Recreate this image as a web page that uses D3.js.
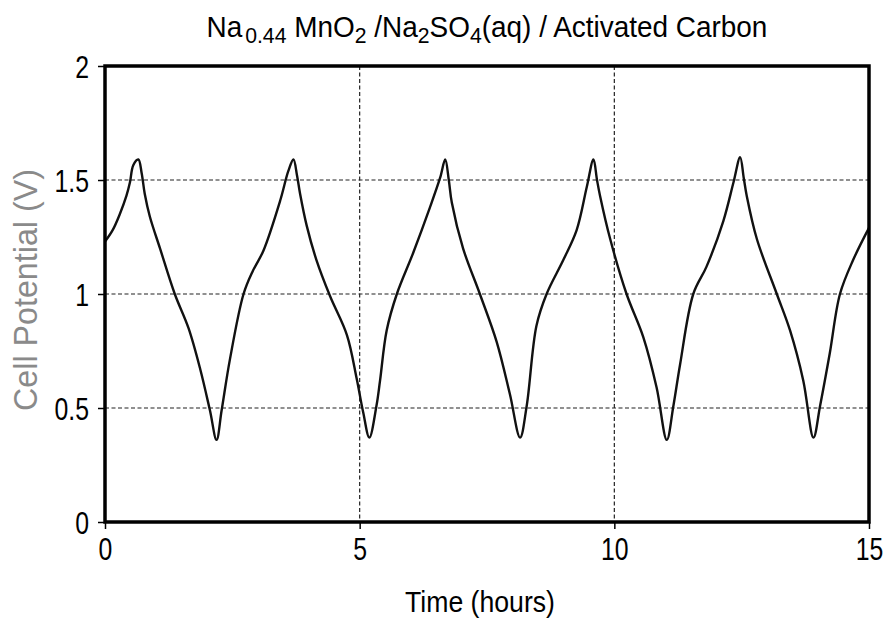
<!DOCTYPE html>
<html><head><meta charset="utf-8">
<script src="https://cdn.jsdelivr.net/npm/d3@7"></script>
<style>
body{margin:0;background:#fff;}
svg{display:block;}
text{font-family:"Liberation Sans",Arial,Helvetica,sans-serif;}
</style></head>
<body><svg id="c" width="886" height="621"></svg>
<script>
const timeHours = [0,0.15,0.29,0.42,0.49,0.555,0.655,0.72,0.78,0.88,1.08,1.37,1.64,1.87,2.06,2.19,2.29,2.45,2.72,2.9,3.11,3.44,3.60,3.70,3.77,3.83,3.96,4.15,4.42,4.75,4.94,5.07,5.19,5.33,5.40,5.53,5.73,6.05,6.38,6.58,6.68,6.75,6.81,7.03,7.36,7.69,7.95,8.15,8.28,8.47,8.67,9.00,9.26,9.46,9.59,9.66,9.72,9.92,10.24,10.57,10.83,11.03,11.16,11.29,11.55,11.81,12.14,12.34,12.47,12.54,12.60,12.80,13.19,13.45,13.71,13.91,14.04,14.23,14.43,14.69,15.0];
const cellPotential = [1.23,1.28,1.35,1.43,1.49,1.565,1.59,1.53,1.44,1.34,1.20,1.00,0.85,0.67,0.49,0.36,0.49,0.71,1.00,1.10,1.19,1.41,1.54,1.59,1.52,1.44,1.30,1.15,0.99,0.82,0.63,0.48,0.37,0.51,0.62,0.84,1.00,1.18,1.38,1.51,1.59,1.50,1.40,1.20,1.00,0.79,0.56,0.37,0.51,0.86,1.00,1.15,1.28,1.47,1.59,1.50,1.43,1.24,1.00,0.81,0.59,0.36,0.51,0.69,1.00,1.12,1.32,1.49,1.60,1.51,1.43,1.24,1.00,0.84,0.62,0.37,0.51,0.74,1.00,1.15,1.29];
const xTicks = [0,5,10,15];
const yTicks = [0,0.5,1,1.5,2];
const yTickLabels = ["0","0.5","1","1.5","2"];

const svg = d3.select("#c");
const L=105, R=869, T=66, B=522;
const x = d3.scaleLinear().domain([0,15]).range([L,R]);
const y = d3.scaleLinear().domain([0,2]).range([B,T]);

function squeeze(sel, sx, ax, ay){
  sel.attr("transform",`translate(${ax},${ay}) scale(${sx},1) translate(${-ax},${-ay})`);
}

// grid
const g = svg.append("g");
g.selectAll(".gx").data([5,10]).enter().append("line")
  .attr("x1",d=>x(d)).attr("x2",d=>x(d)).attr("y1",T).attr("y2",B)
  .attr("stroke","#222").attr("stroke-width",1.2).attr("stroke-dasharray","4,2.5");
g.selectAll(".gy").data([0.5,1,1.5]).enter().append("line")
  .attr("x1",L).attr("x2",R).attr("y1",d=>y(d)).attr("y2",d=>y(d))
  .attr("stroke","#222").attr("stroke-width",1.2).attr("stroke-dasharray","4,2.5");

// curve
const pts = timeHours.map((t,i)=>[t,cellPotential[i]]);
svg.append("path").datum(pts)
  .attr("d", d3.line().x(d=>x(d[0])).y(d=>y(d[1])).curve(d3.curveCatmullRom.alpha(0.5)))
  .attr("fill","none").attr("stroke","#111").attr("stroke-width",2.4).attr("stroke-linejoin","round");

// axes
const xAxis = d3.axisBottom(x).tickValues(xTicks).tickSize(7).tickSizeOuter(0).tickFormat(d3.format("d"));
const ax = svg.append("g").attr("transform",`translate(0,${B})`).call(xAxis);
ax.select(".domain").remove();
ax.selectAll(".tick line").attr("stroke","#000").attr("stroke-width",1.5);
ax.selectAll(".tick text").attr("font-size",31).attr("fill","#000").attr("dy",null).attr("y",38)
  .each(function(){ squeeze(d3.select(this),0.8,0,38); });

const yAxis = d3.axisLeft(y).tickValues(yTicks).tickSize(7).tickSizeOuter(0).tickFormat((d,i)=>yTickLabels[i]);
const ay = svg.append("g").attr("transform",`translate(${L},0)`).call(yAxis);
ay.select(".domain").remove();
ay.selectAll(".tick line").attr("stroke","#000").attr("stroke-width",1.5);
ay.selectAll(".tick text").attr("font-size",31).attr("fill","#000").attr("x",-16).attr("dy","0.36em")
  .each(function(){ squeeze(d3.select(this),0.8,-16,0); });

// frame
svg.append("rect").attr("x",L).attr("y",T).attr("width",R-L).attr("height",B-T)
  .attr("fill","none").attr("stroke","#000").attr("stroke-width",3.5);

// title
const title = svg.append("text").attr("x",487).attr("y",37).attr("text-anchor","middle")
  .attr("font-size",29).attr("fill","#000");
title.append("tspan").text("Na");
title.append("tspan").text("0.44").attr("baseline-shift","-28%").attr("font-size",22).attr("dx",3);
title.append("tspan").text(" MnO");
title.append("tspan").text("2").attr("baseline-shift","-28%").attr("font-size",22);
title.append("tspan").text(" /Na");
title.append("tspan").text("2").attr("baseline-shift","-28%").attr("font-size",22);
title.append("tspan").text("SO");
title.append("tspan").text("4").attr("baseline-shift","-28%").attr("font-size",22);
title.append("tspan").text("(aq) / Activated Carbon");
{
  const bb = title.node().getBBox();
  squeeze(title, 561 / bb.width, 487, 37);
}

// axis labels
const xl = svg.append("text").attr("x",480).attr("y",612).attr("text-anchor","middle")
  .attr("font-size",30).attr("fill","#000").text("Time (hours)");
{ const bb = xl.node().getBBox(); squeeze(xl, 150/bb.width, 480, 612); }

svg.append("text").attr("transform","translate(37,290) rotate(-90)").attr("text-anchor","middle")
  .attr("font-size",34).attr("fill","#8a8a8a").attr("textLength",242).attr("lengthAdjust","spacingAndGlyphs")
  .text("Cell Potential (V)");
</script></body></html>
